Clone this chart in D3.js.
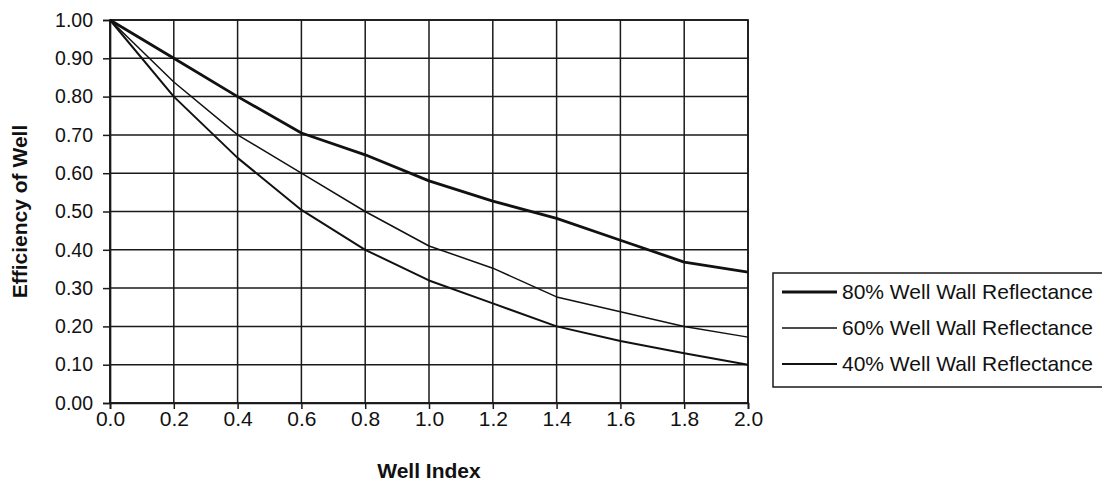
<!DOCTYPE html>
<html><head><meta charset="utf-8">
<script src="https://cdn.jsdelivr.net/npm/d3@7"></script>
<style>body{margin:0;background:#fff}svg{display:block}text{font-family:"Liberation Sans",Arial,sans-serif;fill:#111}</style>
</head><body><svg id="c" width="1102" height="485"></svg>
<script>
const wellIndex = [0.0,0.2,0.4,0.6,0.8,1.0,1.2,1.4,1.6,1.8,2.0];
const refl80 = [1.00,0.90,0.80,0.705,0.648,0.58,0.527,0.482,0.425,0.368,0.342];
const refl60 = [1.00,0.838,0.70,0.60,0.50,0.41,0.352,0.277,0.238,0.20,0.172];
const refl40 = [1.00,0.80,0.64,0.504,0.40,0.32,0.26,0.20,0.162,0.13,0.10];
const seriesNames = ["80% Well Wall Reflectance","60% Well Wall Reflectance","40% Well Wall Reflectance"];
const yTicks = [0,0.1,0.2,0.3,0.4,0.5,0.6,0.7,0.8,0.9,1.0];
const xTicks = [0,0.2,0.4,0.6,0.8,1.0,1.2,1.4,1.6,1.8,2.0];

const series = [
  {name:seriesNames[0], values:refl80, w:2.8},
  {name:seriesNames[1], values:refl60, w:1.5},
  {name:seriesNames[2], values:refl40, w:2.0}
];
const svg = d3.select("#c");
const L=110,R=748,T=20,B=403;
const x = d3.scaleLinear().domain([0,2]).range([L,R]);
const y = d3.scaleLinear().domain([0,1]).range([B,T]);

// grid
svg.append("g").selectAll("line").data(yTicks).join("line")
  .attr("x1",L).attr("x2",R).attr("y1",d=>y(d)).attr("y2",d=>y(d))
  .attr("stroke","#1a1a1a").attr("stroke-width",1.5);
svg.append("g").selectAll("line").data(xTicks).join("line")
  .attr("y1",T).attr("y2",B).attr("x1",d=>x(d)).attr("x2",d=>x(d))
  .attr("stroke","#1a1a1a").attr("stroke-width",1.5);
svg.append("rect").attr("x",L).attr("y",T).attr("width",R-L).attr("height",B-T)
  .attr("fill","none").attr("stroke","#1a1a1a").attr("stroke-width",1.7);

const yAxis = svg.append("g").attr("transform",`translate(${L},0)`)
  .call(d3.axisLeft(y).tickValues(yTicks).tickFormat(d3.format(".2f")).tickSize(7).tickPadding(10));
yAxis.selectAll("text").style("font-size","19.5px");
const xAxis = svg.append("g").attr("transform",`translate(0,${B})`)
  .call(d3.axisBottom(x).tickValues(xTicks).tickFormat(d3.format(".1f")).tickSize(6).tickPadding(2));
xAxis.selectAll("text").style("font-size","21px");
svg.selectAll(".domain").attr("stroke","#1a1a1a").attr("stroke-width",1.7);
svg.selectAll(".tick line").attr("stroke","#1a1a1a").attr("stroke-width",1.5);

const line = d3.line().x((d,i)=>x(wellIndex[i])).y(d=>y(d));
svg.append("g").selectAll("path").data(series).join("path")
  .attr("d",d=>line(d.values)).attr("fill","none").attr("stroke","#111")
  .attr("stroke-width",d=>d.w).attr("stroke-linejoin","round");

svg.append("text").attr("x",(L+R)/2).attr("y",478).attr("text-anchor","middle")
  .style("font-size","21px").style("font-weight","bold").text("Well Index");
svg.append("text").attr("transform",`translate(27,${(T+B)/2}) rotate(-90)`).attr("text-anchor","middle")
  .style("font-size","21px").style("font-weight","bold").text("Efficiency of Well");

// legend
const lg = svg.append("g");
lg.append("rect").attr("x",773).attr("y",273).attr("width",340).attr("height",114)
  .attr("fill","#fff").attr("stroke","#1a1a1a").attr("stroke-width",1.5);
const rows = lg.selectAll("g").data(series).join("g").attr("transform",(d,i)=>`translate(0,${292+i*36})`);
rows.append("line").attr("x1",782).attr("x2",837).attr("y1",0).attr("y2",0).attr("stroke","#111").attr("stroke-width",d=>d.w);
rows.append("text").attr("x",842).attr("y",7).style("font-size","21px").text(d=>d.name);
</script></body></html>
